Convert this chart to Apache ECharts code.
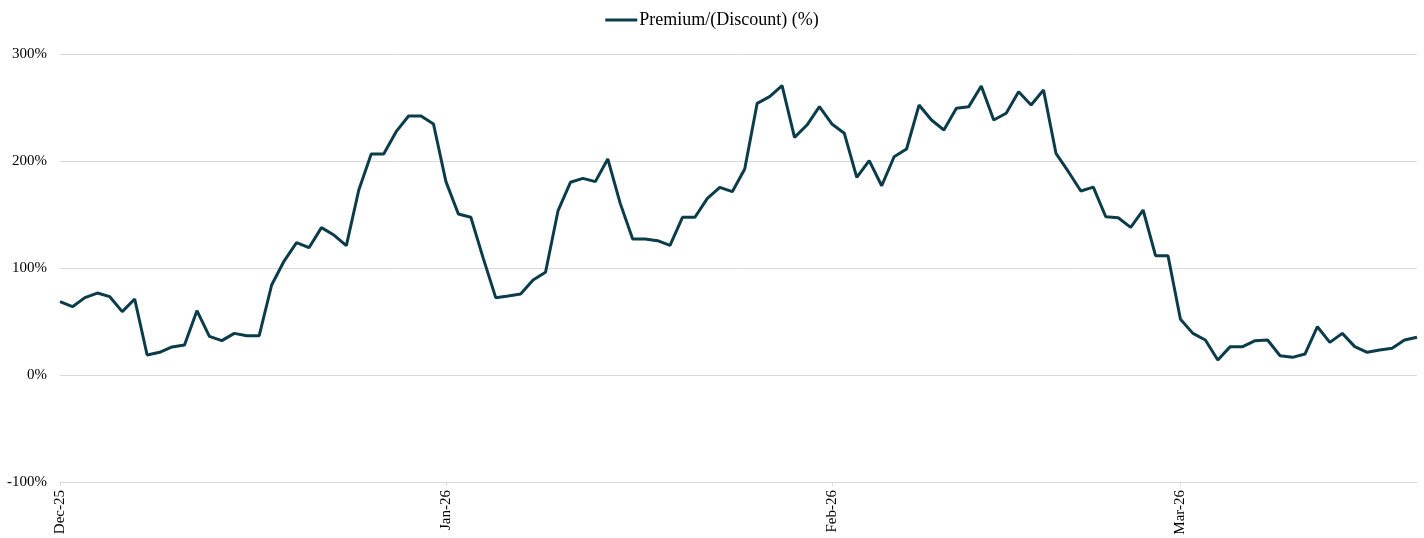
<!DOCTYPE html>
<html>
<head>
<meta charset="utf-8">
<script src="https://cdn.jsdelivr.net/npm/echarts@6/dist/echarts.min.js"></script>
<style>
  html, body { margin: 0; padding: 0; background: #fff; }
  #chart { width: 1424px; height: 538px; }
</style>
</head>
<body>
<div id="chart"></div>
<script>
// daily values
var decValues = [68.5, 63.8, 72.3, 76.6, 73.2, 59.2, 71.0, 18.7, 21.2, 26.2, 28.0, 60.1, 36.1, 32.1, 38.9, 36.7,
  36.7, 84.1, 106.5, 123.7, 119.0, 137.7, 130.8, 120.9, 172.9, 206.5, 206.5, 227.4, 242.1, 242.1, 234.6];
var janValues = [180.7, 150.4, 147.4, 109.0, 72.3, 73.8, 75.7, 88.8, 96.0, 153.3, 180.1, 183.8, 180.7, 201.9, 160.4,
  127.1, 127.1, 125.5, 121.2, 147.4, 147.4, 165.1, 175.4, 171.3, 192.5, 253.9, 260.1, 270.4, 222.1, 233.6, 250.8];
var febValues = [234.6, 225.9, 184.7, 200.3, 176.9, 204.0, 211.2, 252.3, 238.3, 229.0, 249.2, 250.8, 270.1, 238.3,
  244.6, 264.8, 252.3, 266.4, 207.2, 190.0, 172.0, 175.6, 147.9, 147.0, 138.0, 154.2, 111.5, 111.5];
var marValues = [52.1, 38.9, 32.7, 14.0, 26.5, 26.5, 32.1, 32.7, 18.0, 16.5, 19.6, 45.1, 30.5, 38.9, 26.5, 21.2,
  23.4, 25.0, 32.7, 35.2];
var months = [
  { y: 2025, m: 12, name: "Dec", vals: decValues },
  { y: 2026, m: 1, name: "Jan", vals: janValues },
  { y: 2026, m: 2, name: "Feb", vals: febValues },
  { y: 2026, m: 3, name: "Mar", vals: marValues }
];
var yTicks = [-100, 0, 100, 200, 300];

// categories: one per day
var dates = [];
var values = [];
var monthLabel = {};
months.forEach(function (mo) {
  mo.vals.forEach(function (v, i) {
    var d = mo.y + "-" + String(mo.m).padStart(2, "0") + "-" + String(i + 1).padStart(2, "0");
    dates.push(d);
    values.push(v);
    if (i === 0) monthLabel[d] = mo.name + "-" + String(mo.y).slice(2);
  });
});

var isMonthStart = function (idx, val) {
  return monthLabel[val] !== undefined;
};

var chart = echarts.init(document.getElementById("chart"));
var option = {
  animation: false,
  textStyle: { fontFamily: "Liberation Serif" },
  legend: {
    top: 6,
    left: "center",
    itemWidth: 32,
    itemHeight: 14,
    itemGap: 10,
    textStyle: { fontFamily: "Liberation Serif", fontSize: 18, color: "#000", padding: [0, 0, 0, -3] },
    data: [{ name: "Premium/(Discount) (%)", icon: "path://M0,6 L30,6 L30,9 L0,9 Z" }]
  },
  grid: {
    left: 60,
    right: 7,
    top: 54,
    bottom: 56,
    containLabel: false
  },
  xAxis: {
    type: "category",
    boundaryGap: false,
    data: dates,
    axisLine: { show: true, onZero: false, lineStyle: { color: "#d9d9d9", width: 1 } },
    axisTick: { show: true, interval: isMonthStart, length: 4, lineStyle: { color: "#d9d9d9" } },
    axisLabel: {
      interval: isMonthStart,
      rotate: 90,
      margin: 8,
      fontFamily: "Liberation Serif",
      fontSize: 15,
      color: "#000",
      formatter: function (val) { return monthLabel[val] || ""; }
    },
    splitLine: { show: false }
  },
  yAxis: {
    type: "value",
    min: yTicks[0],
    max: yTicks[yTicks.length - 1],
    interval: 100,
    axisLine: { show: false },
    axisTick: { show: false },
    axisLabel: {
      margin: 13,
      fontFamily: "Liberation Serif",
      fontSize: 15,
      color: "#000",
      formatter: "{value}%"
    },
    splitLine: { show: true, lineStyle: { color: "#d9d9d9", width: 1 } }
  },
  series: [
    {
      name: "Premium/(Discount) (%)",
      type: "line",
      data: values,
      symbol: "none",
      smooth: false,
      lineStyle: { color: "#0b3c49", width: 3 },
      itemStyle: { color: "#0b3c49" }
    }
  ]
};
chart.setOption(option);
window.addEventListener("resize", function () {
  chart.resize();
});
</script>
</body>
</html>
